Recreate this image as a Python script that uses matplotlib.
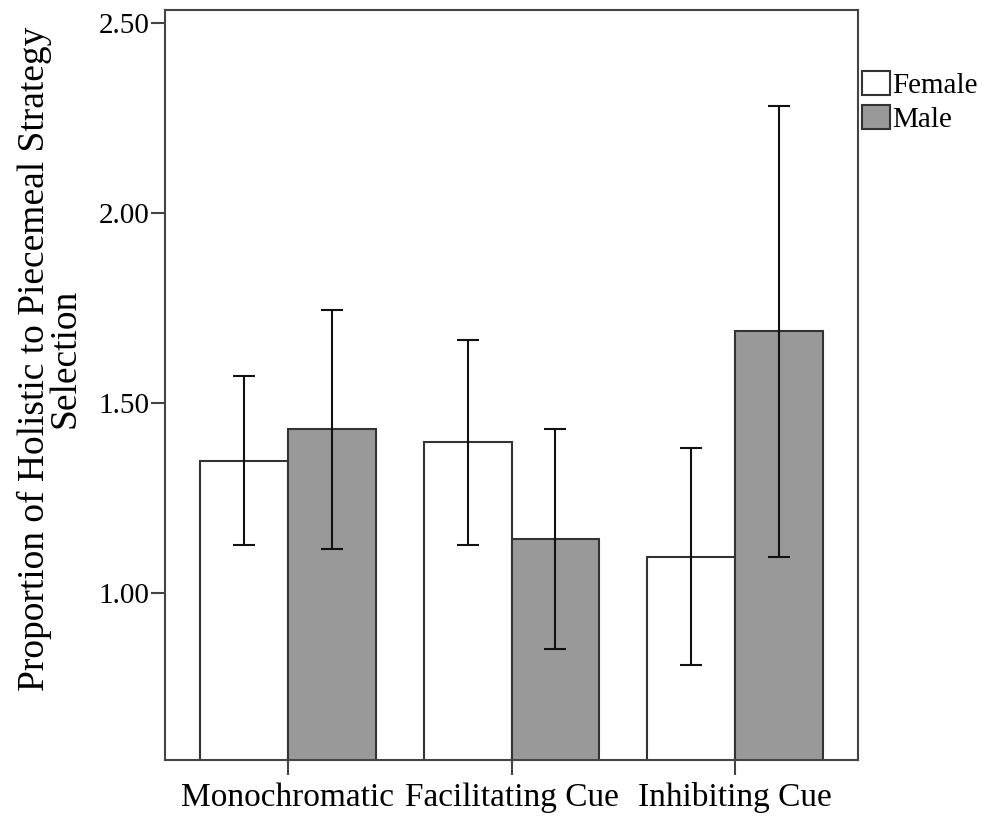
import matplotlib
matplotlib.use("Agg")
import matplotlib.pyplot as plt
import numpy as np

plt.rcParams['font.family'] = ['Liberation Serif', 'DejaVu Serif']

conditions = ["Monochromatic", "Facilitating Cue", "Inhibiting Cue"]
female_mean = [1.347, 1.397, 1.095]
male_mean = [1.432, 1.142, 1.689]
female_ci_low = [1.126, 1.126, 0.810]
female_ci_high = [1.571, 1.666, 1.382]
male_ci_low = [1.116, 0.853, 1.095]
male_ci_high = [1.745, 1.432, 2.282]

fig = plt.figure(figsize=(9.87, 8.21), dpi=100)
ax = fig.add_axes([0.1672, 0.0743, 0.7021, 0.9135])

x = np.arange(len(conditions))
w = 0.393
edge = "#333333"

def yerr(mean, lo, hi):
    mean = np.array(mean)
    return np.vstack([mean - np.array(lo), np.array(hi) - mean])

ax.bar(x - w / 2, female_mean, w, bottom=0, color="white", edgecolor=edge,
       linewidth=1.5, label="Female", zorder=2)
ax.bar(x + w / 2, male_mean, w, bottom=0, color="#999999", edgecolor=edge,
       linewidth=1.5, label="Male", zorder=2)

ekw = dict(fmt="none", ecolor="#111111", elinewidth=1.5, capsize=8, capthick=1.5, zorder=3)
ax.errorbar(x - w / 2, female_mean, yerr=yerr(female_mean, female_ci_low, female_ci_high), **ekw)
ax.errorbar(x + w / 2, male_mean, yerr=yerr(male_mean, male_ci_low, male_ci_high), **ekw)

ax.set_xlim(-0.55, 2.55)
ax.set_ylim(0.560, 2.535)
ax.set_yticks([1.0, 1.5, 2.0, 2.5])
ax.set_yticklabels(["1.00", "1.50", "2.00", "2.50"])
ax.set_xticks(x)
ax.set_xticklabels(conditions)

for s in ax.spines.values():
    s.set_color("#444444")
    s.set_linewidth(1.5)
ax.tick_params(axis="y", labelsize=21, length=10, width=1.5, color="#444444", pad=1)
ax.tick_params(axis="x", labelsize=24, length=11, width=1.5, color="#444444", pad=5)

ax.set_ylabel("Proportion of Holistic to Piecemeal Strategy\nSelection", fontsize=27,
              linespacing=0.85, labelpad=12)
ax.yaxis.label.set_y(0.535)

leg = ax.legend(loc="upper left", bbox_to_anchor=(862 / 987, 1 - 71 / 821),
                bbox_transform=fig.transFigure, frameon=False, fontsize=21,
                handlelength=0.95, handleheight=0.9, handletextpad=0.1,
                labelspacing=0.2, borderpad=0, borderaxespad=0)

fig.savefig("out.png", dpi=100)
